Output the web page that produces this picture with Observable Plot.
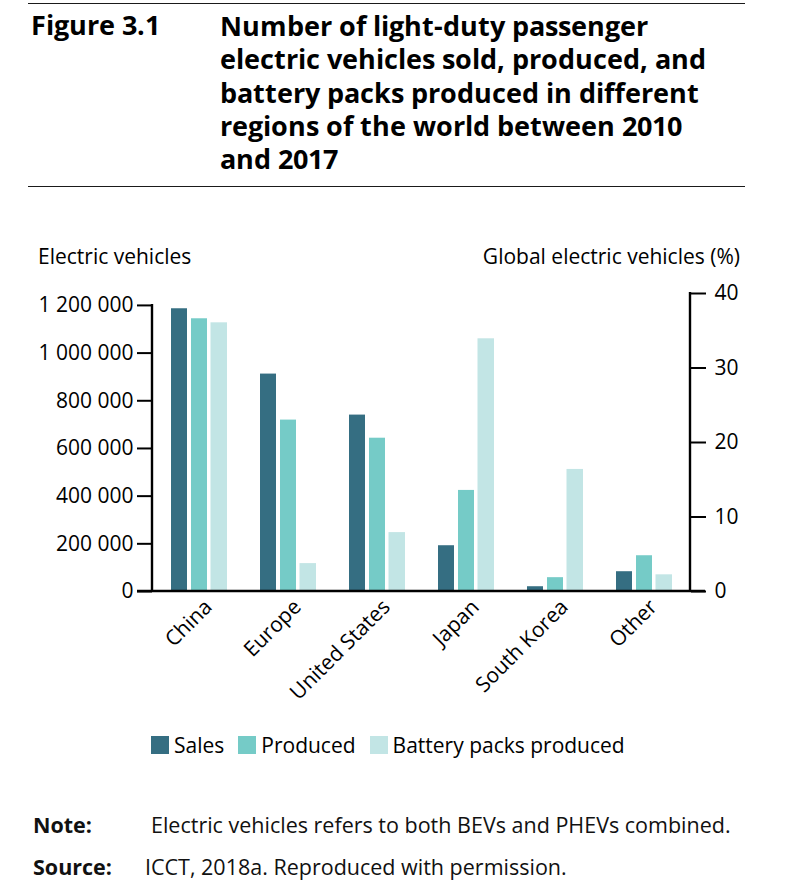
<!DOCTYPE html>
<html>
<head>
<meta charset="utf-8">
<script src="https://cdn.jsdelivr.net/npm/d3@7"></script>
<script src="https://cdn.jsdelivr.net/npm/@observablehq/plot@0.6"></script>
<style>
  @font-face {
    font-family: "OpenSansTitle";
    src: local("Open Sans Bold"), local("OpenSans-Bold");
    font-weight: 700;
    ascent-override: 95%;
    descent-override: 25%;
    line-gap-override: 0%;
  }
  body { margin: 0; background: #fff; font-family: "Open Sans", sans-serif; color: #000; }
  #page { position: relative; width: 794px; height: 882px; overflow: hidden; }
  .rule { position: absolute; left: 28px; width: 717px; height: 1.3px; background: #1a1a1a; }
  .fig { position: absolute; left: 31px; top: 10px; font-family: "OpenSansTitle", "Open Sans", sans-serif; font-weight: 700; font-size: 26.5px; line-height: 33.3px; height: 33.3px; white-space: nowrap; }
  .tl { position: absolute; left: 220px; font-family: "OpenSansTitle", "Open Sans", sans-serif; font-weight: 700; font-size: 27px; line-height: 33.3px; height: 33.3px; white-space: nowrap; }
  .axt { position: absolute; top: 242px; font-size: 21px; line-height: 28px; }
  #chart { position: absolute; left: 0; top: 280px; }
  .legend { position: absolute; left: 151px; top: 731px; display: flex; align-items: center; font-size: 21px; line-height: 28px; }
  .legend .item { display: flex; align-items: center; margin-right: 14px; }
  .legend .sw { width: 18px; height: 18px; margin-right: 5px; }
  .note { position: absolute; font-size: 21.5px; line-height: 26px; color: #111; white-space: nowrap; }
  .note b { font-weight: 700; }
</style>
</head>
<body>
<div id="page">
  <div class="rule" style="top:3px"></div>
  <div class="fig">Figure 3.1</div>
  <div id="title"></div>
  <div class="rule" style="top:186px"></div>
  <div class="axt" style="left:38px">Electric vehicles</div>
  <div class="axt" style="right:54px">Global electric vehicles (%)</div>
  <div id="chart"></div>
  <div class="legend" id="legend"></div>
  <div class="note" style="top:812px;left:33px"><b>Note:</b></div>
  <div class="note" style="top:812px;left:151px">Electric vehicles refers to both BEVs and PHEVs combined.</div>
  <div class="note" style="top:854px;left:33px"><b>Source:</b></div>
  <div class="note" style="top:854px;left:145px">ICCT, 2018a. Reproduced with permission.</div>
</div>
<script>
// ---- Data ----
const titleLines = [
  "Number of light-duty passenger",
  "electric vehicles sold, produced, and",
  "battery packs produced in different",
  "regions of the world between 2010",
  "and 2017"
];
const regions = ["China", "Europe", "United States", "Japan", "South Korea", "Other"];
const seriesNames = ["Sales", "Produced", "Battery packs produced"];
const sales    = [1186000, 912000, 740000, 192000, 20000, 83000];
const produced = [1144000, 719000, 643000, 424000, 58000, 150000];
const battery  = [1127000, 117000, 247000, 1060000, 512000, 70000];
const leftTicks  = [0, 200000, 400000, 600000, 800000, 1000000, 1200000];
const rightTicks = [0, 10, 20, 30, 40];
const pctUnit = 31250; // vehicles per 1 % of global electric vehicles
const colors = ["#356e82", "#75cbc7", "#c2e5e5"];

// title lines
const titleEl = document.getElementById("title");
titleLines.forEach((t, i) => {
  const d = document.createElement("div");
  d.className = "tl";
  d.style.top = (10 + i * 33.3) + "px";
  d.textContent = t;
  titleEl.appendChild(d);
});

const seriesValues = [sales, produced, battery];
const rows = seriesNames.map((s, i) => regions.map((r, j) => ({region: r, series: s, value: seriesValues[i][j]})));

const fmtSpace = d => d3.format(",")(d).replace(/,/g, " ");

const insets = [[0, 40], [20, 20], [39.5, 0]];

const axisLines = (index, scales, values, dims) => {
  const g = d3.create("svg:g").attr("stroke", "#000").attr("stroke-width", 2.4).attr("fill", "none");
  const xl = dims.marginLeft, xr = dims.width - dims.marginRight;
  const y0 = scales.y(0);
  g.append("line").attr("x1", xl).attr("x2", xl).attr("y1", y0).attr("y2", scales.y(leftTicks[leftTicks.length - 1]) - 1);
  g.append("line").attr("x1", xr).attr("x2", xr).attr("y1", y0).attr("y2", scales.y(rightTicks[rightTicks.length - 1] * pctUnit) - 1);
  g.append("line").attr("x1", xl - 15).attr("x2", xr + 15).attr("y1", y0).attr("y2", y0);
  return g.node();
};

const chart = Plot.plot({
  width: 794,
  height: 421,
  marginTop: 13,
  marginBottom: 110,
  marginLeft: 152,
  marginRight: 104,
  style: {fontFamily: "Open Sans", fontSize: "21px", color: "#000", background: "transparent", overflow: "visible"},
  x: {domain: regions, paddingInner: 0.375, paddingOuter: 0.1875},
  y: {domain: [0, rightTicks[rightTicks.length - 1] * pctUnit]},
  marks: [
    ...rows.map((data, i) => Plot.barY(data, {
      x: "region", y: "value", fill: colors[i],
      insetLeft: insets[i][0], insetRight: insets[i][1]
    })),
    Plot.axisY({anchor: "left", ticks: leftTicks, tickFormat: fmtSpace, tickSize: 15, tickPadding: 4, strokeWidth: 2, label: null, fontSize: 21}),
    Plot.axisY({anchor: "right", ticks: rightTicks.map(p => p * pctUnit), tickFormat: d => String(Math.round(d / pctUnit)), tickSize: 15, tickPadding: 9, strokeWidth: 2, label: null, fontSize: 21}),
    Plot.axisX({tickRotate: -45, tickSize: 0, tickPadding: 9, label: null, fontSize: 21, dx: 9, dy: 3}),
    axisLines
  ]
});
document.getElementById("chart").appendChild(chart);

const legend = document.getElementById("legend");
seriesNames.forEach((s, i) => {
  const it = document.createElement("div");
  it.className = "item";
  it.innerHTML = `<div class="sw" style="background:${colors[i]}"></div><span>${s}</span>`;
  legend.appendChild(it);
});
</script>
</body>
</html>
